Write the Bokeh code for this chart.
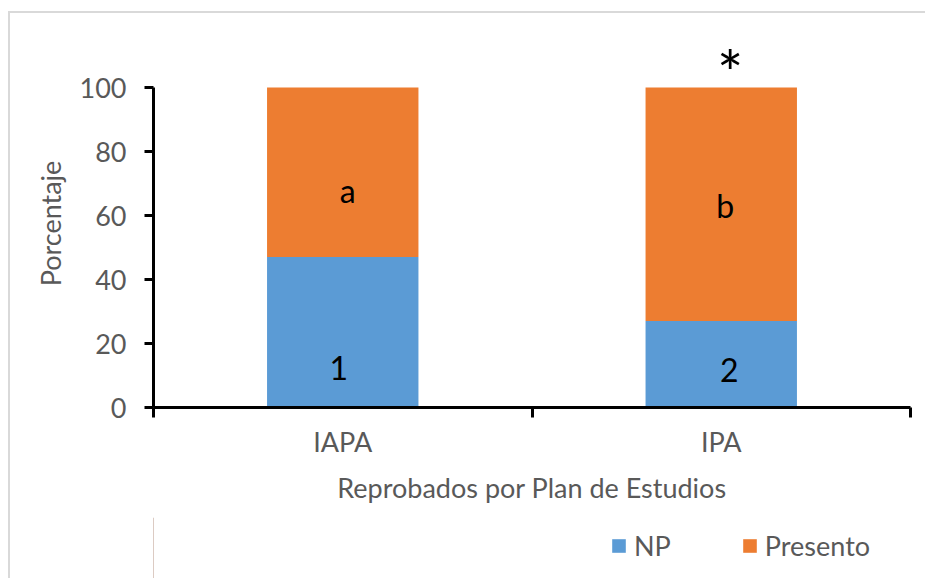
from bokeh.plotting import figure
from bokeh.layouts import column
from bokeh.models import Range1d, FixedTicker, Legend, LegendItem
from bokeh.core.properties import value
from bokeh.embed import file_html
from bokeh.resources import INLINE

# Data: percentage of failed students per study plan
categories = ["IAPA", "IPA"]
np_pct = [47, 27]          # NP (no presentó)
presento_pct = [53, 73]    # Presentó
series_names = ["NP", "Presento"]

# Significance annotations drawn on the bars
np_marks = ["1", "2"]
presento_marks = ["a", "b"]
star_mark = ["", "*"]

FONT = "Lato"
GRAY = "#595959"
BLUE = "#5B9BD5"
ORANGE = "#ED7D31"
TXT = "27px"

x_pos = [i + 0.5 for i in range(len(categories))]

# Main chart; y range leaves head-room above 100 for the significance star
p = figure(
    width=915, height=504,
    x_range=Range1d(0, len(categories)), y_range=Range1d(0, 115),
    output_backend="svg", toolbar_location=None,
    min_border_left=143, min_border_top=26, min_border_right=15, min_border_bottom=110,
)
p.outline_line_color = None
p.xgrid.visible = False
p.ygrid.visible = False

src = dict(x=x_pos, NP=np_pct, Presento=presento_pct)
rs = p.vbar_stack(series_names, x="x", width=0.4, source=src,
                  color=[BLUE, ORANGE], line_color=None)

# Annotation letters/numbers on the bars
lbl_y_np = [12.5, 11.6]
lbl_y_pr = [67.8, 63.1]
dx_np = [-4, 8]
dx_pr = [5, 4]
p.text(x=x_pos, y=lbl_y_np, text=np_marks, x_offset=dx_np,
       text_font=value(FONT), text_font_size="32px", text_color="black",
       text_align="center", text_baseline="middle")
p.text(x=x_pos, y=lbl_y_pr, text=presento_marks, x_offset=dx_pr,
       text_font=value(FONT), text_font_size="32px", text_color="black",
       text_align="center", text_baseline="middle")
p.text(x=x_pos, y=[104.8, 104.8], text=star_mark, x_offset=[0, 9],
       text_font=value(FONT), text_font_size="62px", text_color="black",
       text_align="center", text_baseline="middle")

# Y axis
ya = p.yaxis[0]
ya.bounds = (0, 100)
ya.ticker = FixedTicker(ticks=[0, 20, 40, 60, 80, 100])
ya.axis_line_width = 3
ya.axis_line_color = "black"
ya.major_tick_line_width = 3
ya.major_tick_out = 9
ya.major_tick_in = 0
ya.minor_tick_line_color = None
ya.major_label_standoff = 18
ya.major_label_text_font = FONT
ya.major_label_text_font_size = TXT
ya.major_label_text_color = GRAY
ya.axis_label = "Porcentaje"
ya.axis_label_text_font = FONT
ya.axis_label_text_font_size = TXT
ya.axis_label_text_font_style = "normal"
ya.axis_label_text_color = GRAY
ya.axis_label_standoff = 10

# X axis: labels at bar centres, tick marks at category boundaries
xa = p.xaxis[0]
xa.ticker = FixedTicker(ticks=x_pos, minor_ticks=list(range(len(categories) + 1)))
xa.major_label_overrides = {x: c for x, c in zip(x_pos, categories)}
xa.axis_line_width = 3
xa.axis_line_color = "black"
xa.major_tick_line_color = None
xa.major_tick_out = 0
xa.major_tick_in = 0
xa.minor_tick_line_width = 3
xa.minor_tick_line_color = "black"
xa.minor_tick_out = 10
xa.minor_tick_in = 0
xa.major_label_standoff = 7
xa.major_label_text_font = FONT
xa.major_label_text_font_size = TXT
xa.major_label_text_color = GRAY
xa.axis_label = "Reprobados por Plan de Estudios"
xa.axis_label_text_font = FONT
xa.axis_label_text_font_size = TXT
xa.axis_label_text_font_style = "normal"
xa.axis_label_text_color = GRAY
xa.axis_label_standoff = 10

# Legend strip under the chart; its swatch renderers sit outside the strip's range
leg = figure(
    width=915, height=61, x_range=Range1d(0, 1), y_range=Range1d(0, 1),
    output_backend="svg", toolbar_location=None,
    x_axis_location=None, y_axis_location=None,
    min_border=0,
)
leg.outline_line_color = None
leg.xgrid.visible = False
leg.ygrid.visible = False
swatches = [leg.vbar(x=[-5], top=[1], width=0.4, color=c, line_color=None)
            for c in (BLUE, ORANGE)]
legend = Legend(
    items=[LegendItem(label=n, renderers=[r]) for n, r in zip(series_names, swatches)],
    orientation="horizontal", location=(457, 16),
    border_line_color=None, background_fill_alpha=0,
    glyph_width=17, glyph_height=17, label_standoff=7, spacing=70,
    label_text_font=FONT, label_text_font_size=TXT, label_text_color=GRAY,
    padding=6, margin=0,
)
leg.add_layout(legend, "center")

page = column(p, leg, spacing=0)
page.styles = {"margin-left": "8px", "margin-top": "11px",
               "border-left": "2px solid #d9d9d9", "border-top": "2px solid #d9d9d9"}

open("out.html", "w").write(file_html(page, INLINE))
